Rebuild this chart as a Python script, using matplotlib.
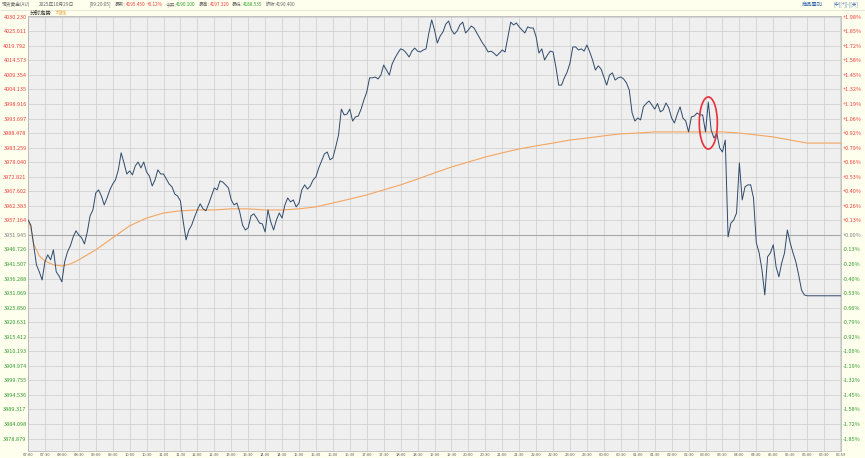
import numpy as np
import matplotlib.pyplot as plt
from matplotlib.patches import Ellipse

plt.rcParams['font.family'] = ['Noto Sans CJK SC', 'DejaVu Sans']

# intraday price, one value every 5 minutes from 07:00 to 06:00
price = [
    3957.3, 3955.5, 3948.4, 3941.2, 3938.7, 3935.8, 3942.3, 3944.8, 3943.0, 3946.6,
    3938.7, 3937.2, 3935.1, 3942.3, 3945.9, 3948.0, 3951.2, 3953.4, 3951.9, 3950.9,
    3948.7, 3953.0, 3958.8, 3960.9, 3967.0, 3968.1, 3965.9, 3962.7, 3965.2, 3968.1,
    3970.2, 3971.7, 3975.3, 3981.4, 3977.8, 3973.8, 3974.9, 3973.5, 3976.7, 3978.1,
    3976.0, 3978.1, 3974.5, 3973.1, 3969.5, 3971.7, 3975.3, 3973.8, 3973.8, 3972.0,
    3970.2, 3969.2, 3966.6, 3965.9, 3964.1, 3956.6, 3950.2, 3953.7, 3955.5, 3958.4,
    3960.9, 3963.1, 3961.3, 3960.6, 3963.1, 3965.9, 3968.8, 3968.1, 3971.3, 3970.9,
    3969.9, 3968.8, 3964.5, 3962.7, 3963.4, 3960.2, 3955.5, 3953.7, 3954.5, 3958.8,
    3959.5, 3958.0, 3956.2, 3955.9, 3953.0, 3960.9, 3956.6, 3953.7, 3957.3, 3959.8,
    3958.0, 3962.7, 3965.2, 3963.8, 3964.5, 3962.0, 3963.4, 3968.1, 3969.9, 3968.4,
    3969.5, 3971.7, 3972.8, 3976.0, 3978.5, 3981.0, 3981.7, 3978.9, 3979.6, 3983.5,
    3987.8, 3997.1, 3995.0, 3995.3, 3997.1, 3992.8, 3994.3, 3994.6, 3997.1, 4000.4,
    4003.2, 4008.3, 4008.3, 4008.6, 4007.9, 4009.3, 4012.9, 4011.1, 4009.3, 4013.3,
    4015.4, 4017.2, 4018.7, 4018.3, 4017.2, 4015.8, 4017.9, 4019.0, 4017.9, 4017.6,
    4018.3, 4018.7, 4024.4, 4029.1, 4025.5, 4020.8, 4023.3, 4024.8, 4027.6, 4028.7,
    4025.5, 4024.0, 4025.1, 4027.3, 4028.3, 4024.4, 4025.5, 4026.9, 4026.2, 4024.4,
    4022.6, 4020.8, 4019.4, 4017.6, 4017.9, 4017.2, 4016.2, 4017.2, 4018.3, 4017.6,
    4023.0, 4028.3, 4027.3, 4028.0, 4026.6, 4025.5, 4024.4, 4026.6, 4026.2, 4026.2,
    4023.0, 4017.2, 4018.7, 4014.7, 4016.5, 4017.9, 4017.6, 4012.2, 4005.7, 4005.7,
    4008.3, 4010.4, 4013.6, 4019.4, 4019.4, 4018.3, 4018.7, 4017.9, 4020.1, 4017.6,
    4014.7, 4011.1, 4012.6, 4011.5, 4008.6, 4005.7, 4009.3, 4010.1, 4007.5, 4008.3,
    4008.6, 4007.9, 4006.5, 4003.9, 3995.7, 3992.8, 3993.9, 3993.2, 3997.9, 3999.1,
    4000.0, 3998.6, 3997.1, 3999.1, 3996.1, 3996.8, 3999.3, 3997.5, 3993.9, 3992.1,
    3995.3, 3997.9, 3993.9, 3992.8, 3988.9, 3994.3, 3994.6, 3995.7, 3995.0, 3995.0,
    3988.9, 3999.6, 3989.6, 3986.7, 3988.5, 3983.2, 3981.7, 3986.0, 3951.2, 3956.2,
    3957.3, 3959.8, 3977.8, 3964.5, 3969.2, 3969.9, 3969.9, 3965.2, 3949.1, 3945.5,
    3939.4, 3930.4, 3944.1, 3945.5, 3948.4, 3940.5, 3936.9, 3941.9, 3945.5, 3953.7,
    3949.1, 3945.5, 3942.3, 3937.6, 3932.2, 3930.4, 3930.1,
]
minutes = list(np.arange(0, 1385, 5)) + [1439]
price = price + [3930.1]   # no trades after 06:00

# average price line (minutes after 07:00, value)
ma_minutes = [0, 5, 10, 20, 30, 45, 60, 75, 90, 120, 150, 180, 210, 240, 270, 300,
              330, 360, 390, 420, 450, 480, 510, 540, 570, 600, 630, 660, 690, 720,
              750, 780, 810, 840, 870, 900, 930, 960, 990, 1020, 1050, 1080, 1110,
              1140, 1170, 1200, 1230, 1260, 1290, 1320, 1350, 1380, 1439]
ma_values = [3957.3, 3954.5, 3948.7, 3944.4, 3942.6, 3941.2, 3940.8, 3941.5, 3943.0,
             3946.6, 3950.9, 3955.2, 3958.0, 3959.8, 3960.6, 3960.9, 3960.9, 3961.3,
             3961.3, 3960.9, 3960.9, 3961.3, 3962.0, 3963.4, 3964.8, 3966.3, 3968.1,
             3969.9, 3972.0, 3974.2, 3976.3, 3978.1, 3979.9, 3981.4, 3982.8, 3983.9,
             3984.9, 3986.0, 3986.7, 3987.5, 3988.2, 3988.5, 3988.9, 3988.9, 3988.9,
             3988.9, 3988.9, 3988.5, 3987.8, 3987.1, 3986.0, 3984.9, 3984.9]

base = 3951.945
left_labels = ['4030.230', '4025.011', '4019.792', '4014.573', '4009.354', '4004.135',
               '3998.916', '3993.697', '3988.478', '3983.259', '3978.040', '3972.821',
               '3967.602', '3962.383', '3957.164', '3951.945', '3946.726', '3941.507',
               '3936.288', '3931.069', '3925.850', '3920.631', '3915.412', '3910.193',
               '3904.974', '3899.755', '3894.536', '3889.317', '3884.098', '3878.879']
pct_labels = ['+1.98%', '+1.85%', '+1.72%', '+1.58%', '+1.45%', '+1.32%', '+1.19%',
              '+1.06%', '+0.92%', '+0.79%', '+0.66%', '+0.53%', '+0.40%', '+0.26%',
              '+0.13%', '+0.00%', '-0.13%', '-0.26%', '-0.40%', '-0.53%', '-0.66%',
              '-0.79%', '-0.92%', '-1.06%', '-1.19%', '-1.32%', '-1.45%', '-1.58%',
              '-1.72%', '-1.85%']
time_labels = ['07:00', '07:30', '08:00', '08:30', '09:00', '09:30', '10:00', '10:30',
               '11:00', '11:30', '12:00', '12:30', '13:00', '13:30', '14:00', '14:30',
               '15:00', '15:30', '16:00', '16:30', '17:00', '17:30', '18:00', '18:30',
               '19:00', '19:30', '20:00', '20:30', '21:00', '21:30', '22:00', '22:30',
               '23:00', '23:30', '00:00', '00:30', '01:00', '01:30', '02:00', '02:30',
               '03:00', '03:30', '04:00', '04:30', '05:00', '05:30', '06:00', '06:30',
               '06:59']
time_ticks = list(range(0, 1440, 30)) + [1439]

# red circle marked on the chart (minute, price, width in minutes, height in price)
mark = (1205, 3992.1, 32, 18.7)

RED = '#EE3B3B'
GREEN = '#2E9B2E'
GREY = '#808080'
TXT = '#666666'

fig = plt.figure(figsize=(8.65, 4.58), dpi=100, facecolor='#FFFFEE')
ax = fig.add_axes([28 / 865, 7 / 458, 813 / 865, 435 / 458])
ax.set_facecolor('#EFEFEF')
ax.set_xlim(0, 1440)
ax.set_ylim(3874.4, 4030.5)

levels = [float(s) for s in left_labels]
ax.set_yticks(levels)
ax.set_yticklabels(left_labels)
for lbl, v in zip(ax.get_yticklabels(), levels):
    lbl.set_color(RED if v > base + 0.01 else (GREEN if v < base - 0.01 else GREY))
ax.tick_params(axis='y', length=0, pad=1, labelsize=4)
ax.set_xticks(time_ticks)
ax.set_xticklabels(time_labels, fontsize=3, color='#5A5A5A')
ax.tick_params(axis='x', length=0, pad=1.2)
ax.grid(True, color='#CCCCCC', lw=0.5)
ax.set_axisbelow(True)
ax.axhline(base, color='#A8A8A8', lw=0.8, zorder=1)
for sp in ax.spines.values():
    sp.set_color('#B8B8B8')
    sp.set_linewidth(0.6)

ax.plot(ma_minutes, ma_values, color='#F5A560', lw=0.8, zorder=3)
ax.plot(minutes, price, color='#2E4A6A', lw=0.7, zorder=4)
ax.add_patch(Ellipse((mark[0], mark[1]), mark[2], mark[3], fill=False,
                     ec='#E8303A', lw=1.2, zorder=5))

ax2 = ax.twinx()
ax2.set_ylim(ax.get_ylim())
ax2.set_yticks(levels)
ax2.set_yticklabels(pct_labels)
for lbl, v in zip(ax2.get_yticklabels(), levels):
    lbl.set_color(RED if v > base + 0.01 else (GREEN if v < base - 0.01 else GREY))
ax2.tick_params(axis='y', length=0, pad=1.5, labelsize=4)
for sp in ax2.spines.values():
    sp.set_visible(False)

# header strip
y1 = 1 - 4.5 / 458
y2 = 1 - 13 / 458
fig.add_artist(plt.Line2D([0, 1], [1 - 9.5 / 458] * 2, color='#DDDDCC', lw=0.5))
renderer = fig.canvas.get_renderer()


def row(x, parts, size=3.4):
    # place text pieces one after another, x in pixels
    for s, c, gap in parts:
        t = fig.text(x / 865, y1, s, fontsize=size, color=c, va='center', ha='left')
        x = t.get_window_extent(renderer).x1 + gap


row(2, [('现货黄金(AU)', TXT, 0)])
row(39, [('2025年10月29日', TXT, 0)])
row(90, [('[09:20:05]', TXT, 3), ('最新:', TXT, 0), ('4195.450', RED, 1.5),
         ('+0.12%', RED, 3), ('今开:', TXT, 0), ('4190.100', GREEN, 3),
         ('最高:', TXT, 0), ('4197.320', RED, 3), ('最低:', TXT, 0),
         ('4188.535', GREEN, 3), ('昨收:', TXT, 0), ('4190.400', TXT, 0)])
row(802, [('商品叠加', '#3366AA', 0)], size=3.8)
row(833, [('[中][+][-][关]', '#3366AA', 0)], size=3.2)
fig.text(30 / 865, y2, '分时走势', fontsize=4.0, color='#333333', va='center', ha='left')
fig.text(56 / 865, y2, '均线', fontsize=4.0, color='#F0A040', va='center', ha='left')

fig.savefig('out.png', dpi=100, facecolor=fig.get_facecolor())
